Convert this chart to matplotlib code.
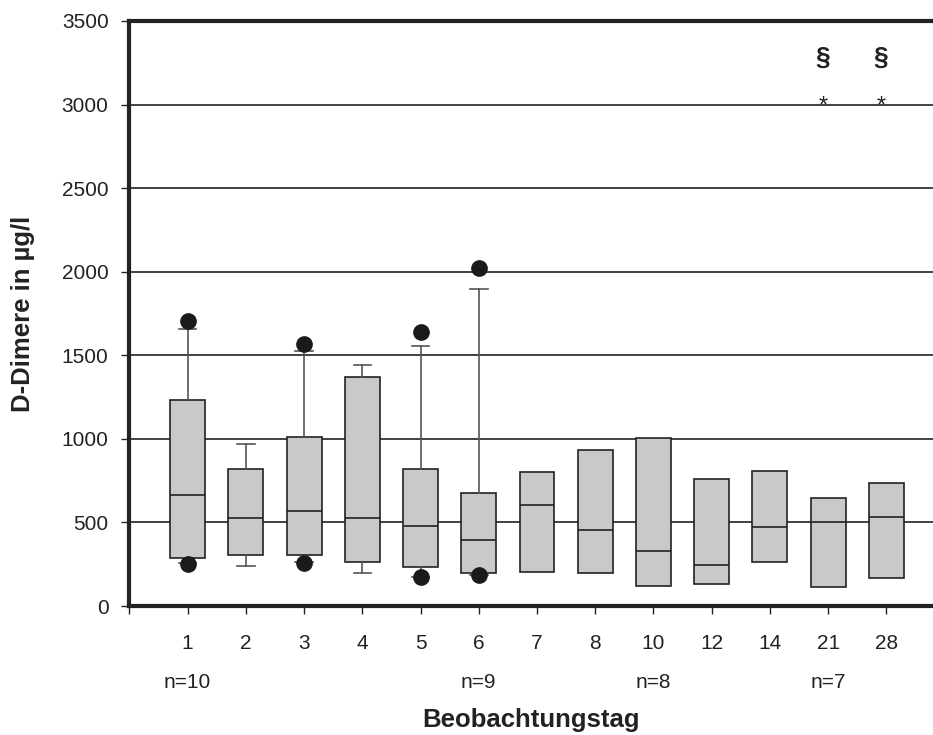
import matplotlib.pyplot as plt
from matplotlib.transforms import blended_transform_factory

plt.rcParams['font.family'] = ['Liberation Sans', 'DejaVu Sans']

# Data
days = ['1', '2', '3', '4', '5', '6', '7', '8', '10', '12', '14', '21', '28']
q1 = [290, 308, 306, 262, 234, 196, 206, 198, 120, 134, 266, 112, 168]
med = [662, 524, 568, 526, 478, 396, 604, 452, 332, 246, 470, 500, 530]
q3 = [1230, 820, 1012, 1372, 820, 676, 800, 936, 1004, 760, 810, 648, 738]
whis_lo = [256, 242, 262, 200, 176, 186]
whis_hi = [1660, 972, 1526, 1442, 1556, 1896]
fliers = [[1706, 252], [], [1566, 260], [], [1640, 176], [2022, 186]]
n_labels = [('1', 'n=10'), ('6', 'n=9'), ('10', 'n=8'), ('21', 'n=7')]
marked_days = ['21', '28']

fig = plt.figure(figsize=(9.33, 7.35), dpi=100)
ax = fig.add_axes([129.4 / 933, 129 / 735, (933 - 129.4) / 933, 585 / 735])

pos = list(range(1, len(days) + 1))

# boxes with whiskers (days 1-6)
stats_w = []
for i in range(len(whis_lo)):
    stats_w.append(dict(med=med[i], q1=q1[i], q3=q3[i], whislo=whis_lo[i],
                        whishi=whis_hi[i], fliers=fliers[i]))
# boxes without whiskers (days 7-28)
stats_b = []
for i in range(len(whis_lo), len(days)):
    stats_b.append(dict(med=med[i], q1=q1[i], q3=q3[i], whislo=q1[i],
                        whishi=q3[i], fliers=[]))

box_style = dict(facecolor='#c8c9cb', edgecolor='#222222', linewidth=1.2)
common = dict(widths=0.6, patch_artist=True, boxprops=box_style,
              medianprops=dict(color='#222222', linewidth=1.2),
              whiskerprops=dict(color='#555555', linewidth=1.2),
              capprops=dict(color='#555555', linewidth=1.2),
              flierprops=dict(marker='o', markerfacecolor='#1a1a1a',
                              markeredgecolor='#1a1a1a', markersize=11),
              manage_ticks=False, zorder=3)
ax.bxp(stats_w, positions=pos[:len(whis_lo)], **common)
ax.bxp(stats_b, positions=pos[len(whis_lo):], showcaps=False, **common)

ax.set_xlim(0, 13.8)
ax.set_ylim(0, 3500)
ax.set_yticks(range(0, 3501, 500))
ax.yaxis.grid(True, color='#333333', linewidth=1.3, zorder=0)
ax.set_axisbelow(True)
ax.set_xticks(range(0, len(days) + 1))
ax.set_xticklabels([''] + days)

for side in ['left', 'bottom', 'top']:
    ax.spines[side].set_linewidth(3)
    ax.spines[side].set_color('#222222')
ax.spines['right'].set_visible(False)

ax.tick_params(axis='y', direction='out', length=6, width=1, color='#222222',
               labelsize=15, pad=9, labelcolor='#222222')
ax.tick_params(axis='x', direction='out', length=6, width=1, color='#222222',
               labelsize=15, pad=14, labelcolor='#222222')

# sample sizes under the axis
tr = blended_transform_factory(ax.transData, ax.transAxes)
for d, txt in n_labels:
    ax.text(days.index(d) + 1, -0.13, txt, transform=tr, ha='center',
            va='center', fontsize=15, color='#222222')

# markers for significance
for d in marked_days:
    x = days.index(d) + 1 - 0.09
    ax.text(x, 3280, '§', ha='center', va='center', fontsize=19,
            fontweight='bold', color='#222222')
    ax.text(x, 2950, '*', ha='center', va='baseline', fontsize=17,
            color='#222222')

ax.set_xlabel('Beobachtungstag', fontsize=18.5, fontweight='bold', color='#222222')
ax.set_ylabel('D-Dimere in µg/l', fontsize=18.5, fontweight='bold', color='#222222')
ax.xaxis.set_label_coords(0.5, -0.174)
ax.yaxis.set_label_coords(-0.118, 0.5)

fig.savefig('out.png', dpi=100)
